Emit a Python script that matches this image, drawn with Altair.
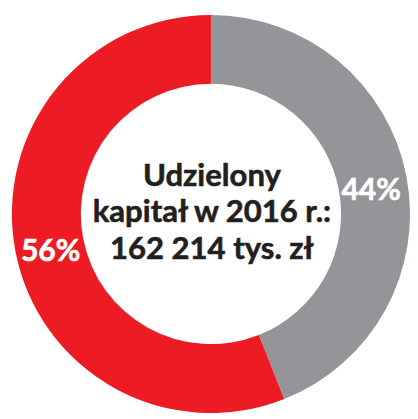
import altair as alt
import pandas as pd

categories = ["Szara część", "Czerwona część"]
shares = [44, 56]
labels = ["44%", "56%"]
colors = ["#939598", "#ED1C24"]
order = [1, 2]
center_lines = ["Udzielony", "kapitał w 2016 r.:", "162 214 tys. zł"]
line_idx = [0, 1, 2]

df = pd.DataFrame({"category": categories, "share": shares, "label": labels, "order": order})
tdf = pd.DataFrame({"t": center_lines, "i": line_idx})

W, H = 410, 411
CX, CY = 209, 206

base = alt.Chart(df).encode(
    theta=alt.Theta("share:Q", stack=True),
    order=alt.Order("order:Q"),
    x=alt.value(CX),
    y=alt.value(CY),
)

arcs = base.mark_arc(outerRadius=205, innerRadius=134).encode(
    color=alt.Color("category:N", scale=alt.Scale(domain=categories, range=colors), legend=None)
)

pct = base.mark_text(radius=168, dy=8, font="Lato", fontWeight="bold",
                     fontSize=31, color="white", stroke="white", strokeWidth=0.6).encode(text="label:N")

center = alt.Chart(tdf).mark_text(
    font="Lato", fontWeight="bold", fontSize=32,
    color="#231F20", stroke="#231F20", strokeWidth=0.6,
    align="center", baseline="alphabetic"
).encode(
    text="t:N",
    x=alt.value(CX + 1),
    y=alt.Y("i:Q", scale=alt.Scale(domain=[0, 2], range=[177, 252]), axis=None),
)

chart = alt.layer(arcs, pct, center).properties(width=W, height=H, padding=0).configure_view(stroke=None)

chart.save("out.html", embed_options={"renderer": "svg", "actions": False})
